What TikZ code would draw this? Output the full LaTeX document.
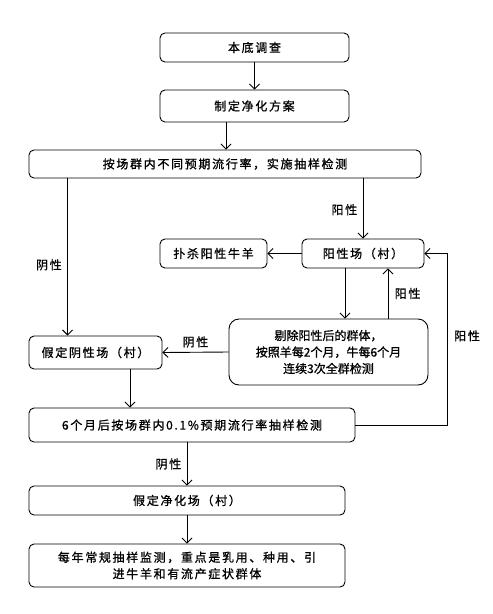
\documentclass[tikz,border=0pt]{standalone}
\usepackage{fontspec}
\newfontfamily\cjk[LetterSpace=14, FakeBold=1]{Noto Sans CJK SC}
\newfontfamily\cjktight[FakeBold=1]{Noto Sans CJK SC}
\usepackage{tikz}
\usetikzlibrary{arrows.meta,positioning}

\begin{document}
\begin{tikzpicture}[x=1pt, y=-1pt, ->, >={Straight Barb[length=5pt,width=10pt]},
                    line width=0.9pt,
                    box/.style={draw, rounded corners=5pt, inner sep=0pt, -},
                    lbl/.style={font=\cjk\fontsize{12}{14}\selectfont}]
\tikzstyle{every node}=[font=\cjk\fontsize{12}{14}\selectfont]
\useasboundingbox (0,0) rectangle (493,614);

\node [box, minimum width=189pt, minimum height=29pt] (survey) at (254.5,47.5) {本底调查};
\node [box, minimum width=189pt, minimum height=32pt] (plan) at (254.5,106) {制定净化方案};
\node [box, minimum width=392pt, minimum height=28pt] (sample) at (225,164) {按场群内不同预期流行率，实施抽样检测};
\node [box, minimum width=122pt, minimum height=29pt] (posfarm) at (363,253.5) {阳性场（村）};
\node [box, minimum width=107pt, minimum height=29pt] (cull) at (213.5,253.5) {扑杀阳性牛羊};
\node [box, rounded corners=10pt, minimum width=199pt, minimum height=66pt, align=center,
       font=\cjktight\fontsize{12}{16.5}\selectfont] (retest) at (328.5,352)
      {剔除阳性后的群体，\\按照羊每2个月，牛每6个月\\连续3次全群检测};
\node [box, minimum width=133pt, minimum height=33pt] (negfarm) at (95.5,352.5) {假定阴性场（村）};
\node [box, minimum width=326pt, minimum height=34pt] (sixmonth) at (192,425) {6个月后按场群内0.1\%预期流行率抽样检测};
\node [box, minimum width=316pt, minimum height=29pt] (clean) at (187,500.5) {假定净化场（村）};
\node [box, minimum width=316pt, minimum height=43pt, align=center,
       font=\cjk\fontsize{12}{16.5}\selectfont] (annual) at (187,565.5)
      {每年常规抽样监测，重点是乳用、种用、引\\进牛羊和有流产症状群体};

\draw (survey) -- (plan);
\draw ([xshift=-28.5pt]plan.south) -- ([xshift=-28.5pt]plan.south |- sample.north);

\draw ([xshift=39pt]sample.south west) -- node [lbl, left=2pt, pos=0.55] {阴性}
      ([xshift=39pt]sample.south west |- negfarm.north);
\draw (sample.south -| posfarm.north) -- node [lbl, left=2pt, pos=0.52] {阳性} (posfarm.north);

\draw (posfarm.west) -- (cull.east);
\draw ([xshift=-18pt]posfarm.south) -- ([xshift=-18pt]posfarm.south |- retest.north);
\draw ([xshift=25pt]posfarm.south |- retest.north) -- node [lbl, right=3pt] {阳性}
      ([xshift=25pt]posfarm.south);
\draw (retest.west) -- node [lbl, above=1pt] {阴性} (negfarm.east);

\draw ([xshift=34.5pt]negfarm.south) -- ([xshift=34.5pt]negfarm.south |- sixmonth.north);
\draw (sixmonth.east) -| node [lbl, right=3pt, pos=0.76] {阳性} ([xshift=23pt]posfarm.east)
      -- (posfarm.east);

\draw (sixmonth.south -| clean.north) -- node [lbl, left=2pt] {阴性} (clean.north);
\draw (clean) -- (annual);
\end{tikzpicture}
\end{document}
